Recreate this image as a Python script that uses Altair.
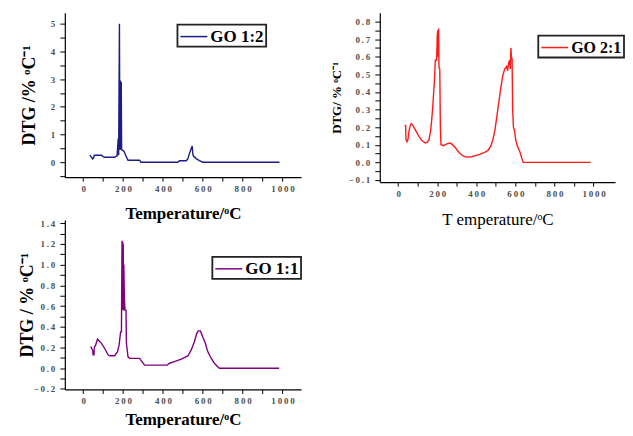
import altair as alt
import pandas as pd

# ---------------- data ----------------
# GO 1:2 (top-left)
t12 = [33, 40, 47, 52, 56, 92, 100, 108, 158, 165, 170, 176, 178, 182, 184, 187, 189, 191, 193,
       200, 206, 213, 225, 283, 290, 475, 483, 517, 525, 533, 540, 547, 550, 553, 567, 583, 600, 985]
v12 = [0.25, 0.2, 0.12, 0.15, 0.25, 0.25, 0.2, 0.18, 0.18, 0.22, 0.22, 0.85, 0.25, 5.0, 0.45, 2.95, 0.45, 2.9, 0.45,
       0.42, 0.38, 0.25, 0.07, 0.07, 0.0, 0.0, 0.05, 0.05, 0.12, 0.31, 0.45, 0.58, 0.3, 0.22, 0.13, 0.06, 0.0, 0.0]

# GO 2:1 (top-right)
t21 = [33, 38, 40, 45, 50, 55, 62, 67, 75, 90, 105, 120, 139, 150, 158, 164, 170, 176, 182, 186,
       190, 197, 200, 203, 205, 207, 209, 213, 216, 219, 232, 249, 265, 274, 292, 305, 317, 330, 346, 377,
       400, 420, 445, 460, 475, 485, 495, 505, 515, 525, 535, 545, 555, 560, 565, 570, 574, 577, 580, 583,
       586, 590, 596, 601, 611, 623, 631, 640, 985]
v21 = [0.21, 0.21, 0.13, 0.117, 0.13, 0.175, 0.21, 0.22, 0.21, 0.18, 0.15, 0.125, 0.11, 0.115, 0.13, 0.165, 0.22, 0.3, 0.4, 0.47,
       0.58, 0.58, 0.72, 0.75, 0.6, 0.76, 0.54, 0.53, 0.2, 0.1, 0.095, 0.105, 0.11, 0.105, 0.085, 0.065, 0.05, 0.038, 0.03, 0.032,
       0.04, 0.047, 0.058, 0.068, 0.095, 0.13, 0.18, 0.26, 0.34, 0.42, 0.49, 0.53, 0.545, 0.52, 0.56, 0.58, 0.53, 0.65, 0.59, 0.59,
       0.3, 0.2, 0.18, 0.13, 0.09, 0.06, 0.03, 0.0, 0.0]

# GO 1:1 (bottom-left)
t11 = [38, 45, 48, 50, 54, 56, 62, 72, 92, 108, 125, 133, 158, 172, 180, 188, 192, 195, 197, 198, 200, 201, 203, 204,
       207, 210, 215, 217, 225, 233, 283, 308, 422, 433, 458, 492, 525, 542, 558, 570, 577, 588, 600, 613, 625, 642,
       658, 675, 683, 983]
v11 = [0.21, 0.18, 0.17, 0.13, 0.13, 0.2, 0.22, 0.28, 0.24, 0.19, 0.13, 0.12, 0.12, 0.16, 0.22, 0.35, 0.35, 1.23, 0.6, 1.22, 0.56, 1.2, 0.56, 1.0,
       0.66, 0.56, 0.56, 0.24, 0.11, 0.095, 0.095, 0.03, 0.03, 0.048, 0.063, 0.087, 0.118, 0.176, 0.256, 0.336, 0.36, 0.36, 0.3, 0.24, 0.16, 0.096,
       0.048, 0.015, 0.0, 0.0]

x_ticks = [0, 100, 200, 300, 400, 500, 600, 700, 800, 900, 1000]
y12_ticks = [-0.5, 0, 0.5, 1, 1.5, 2, 2.5, 3, 3.5, 4, 4.5, 5]
y21_ticks = [round(-0.1 + 0.05 * i, 2) for i in range(19)]
y11_ticks = [round(-0.2 + 0.1 * i, 1) for i in range(17)]

SERIF = "Liberation Serif"


def spaced(expr):
    return "replace(" + expr + ", regexp('(.)(?=.)', 'g'), '$1\u2009')"


def panel(t, v, name, color, xdom, ydom, yvals, ylab_test, ylab_fmt, w, h,
          ytitle, ytsize, ytx, xtitle, xtweight, xty, legx, legy, legfont):
    df = pd.DataFrame({"T": t, "DTG": v, "s": [name] * len(t)})
    xaxis = alt.Axis(values=x_ticks,
                     labelExpr="datum.value % 200 === 0 ? " + spaced("format(datum.value, 'd')") + " : ''",
                     labelFont=SERIF, labelFontSize=9, labelFontWeight="bold", labelColor="#505050",
                     labelPadding=3, labelOverlap=False, labelFlush=False,
                     tickSize=4, tickColor="black", domainColor="black", domainWidth=1.2,
                     grid=False, title=xtitle, titleFont=SERIF, titleFontSize=17,
                     titleFontWeight=xtweight, titleColor="black", titleY=xty, titleBaseline="middle")
    yaxis = alt.Axis(values=yvals,
                     labelExpr="(" + ylab_test + ") ? " + spaced("format(datum.value, '" + ylab_fmt + "')") + " : ''",
                     labelFont=SERIF, labelFontSize=9, labelFontWeight="bold", labelColor="#505050",
                     labelPadding=5, labelOverlap=False, labelFlush=False,
                     tickSize=5, tickColor="black", domainColor="black", domainWidth=1.2,
                     grid=False, title=ytitle, titleFont=SERIF, titleFontSize=ytsize,
                     titleFontWeight="bold", titleColor="black", titleX=ytx, titleY=h / 2,
                     titleBaseline="middle", titleAngle=270, titleAlign="center")
    return alt.Chart(df).mark_line(strokeWidth=1.4, interpolate="linear").encode(
        x=alt.X("T:Q", scale=alt.Scale(domain=xdom, nice=False, zero=False), axis=xaxis),
        y=alt.Y("DTG:Q", scale=alt.Scale(domain=ydom, nice=False, zero=False), axis=yaxis),
        color=alt.Color("s:N", scale=alt.Scale(domain=[name], range=[color]),
                        legend=alt.Legend(title=None, orient="none", legendX=legx, legendY=legy,
                                          symbolType="M-1,0H2", symbolSize=324, symbolStrokeWidth=1.5,
                                          labelFont=SERIF, labelFontWeight="bold", labelFontSize=legfont,
                                          labelColor="black", labelOffset=11, strokeColor="#222222",
                                          padding=2)),
    ).properties(width=w, height=h)


p1 = panel(t12, v12, "GO 1:2", "#1c1c88", [-92, 1093], [-0.54, 5.4], y12_ticks,
           "abs(datum.value % 1) < 0.01", "d", 237, 165,
           "DTG /% ᵒC⁻¹", 18, -35, "Temperature/ᵒC", "bold", 37, 113, 12, 17)
p2 = panel(t21, v21, "GO 2:1", "#ff1a1a", [-94, 1110], [-0.112, 0.85], y21_ticks,
           "abs(round(datum.value * 100)) % 10 === 0", ".1f", 236, 170,
           "DTG/ % ᵒC⁻¹", 13, -43, "T emperature/ᵒC", "normal", 38, 159, 23, 16)
p3 = panel(t11, v11, "GO 1:1", "#800080", [-92, 1093], [-0.205, 1.43], y11_ticks,
           "abs(round(datum.value * 10)) % 2 === 0", ".1f", 237, 170,
           "DTG / % ᵒC⁻¹", 18, -37, "Temperature/ᵒC", "bold", 30, 148, 37, 17)

chart = alt.concat(p1, p2, p3, columns=2).properties(
    spacing={"row": 38, "column": 79},
    bounds="flush",
    padding={"left": 11, "top": 4, "right": 0, "bottom": 0},
).resolve_scale(color="independent").resolve_legend(color="independent").configure_view(
    strokeWidth=0).configure_legend(strokeWidth=1.8)

chart.save("out.html", embed_options={"renderer": "svg", "actions": False})
